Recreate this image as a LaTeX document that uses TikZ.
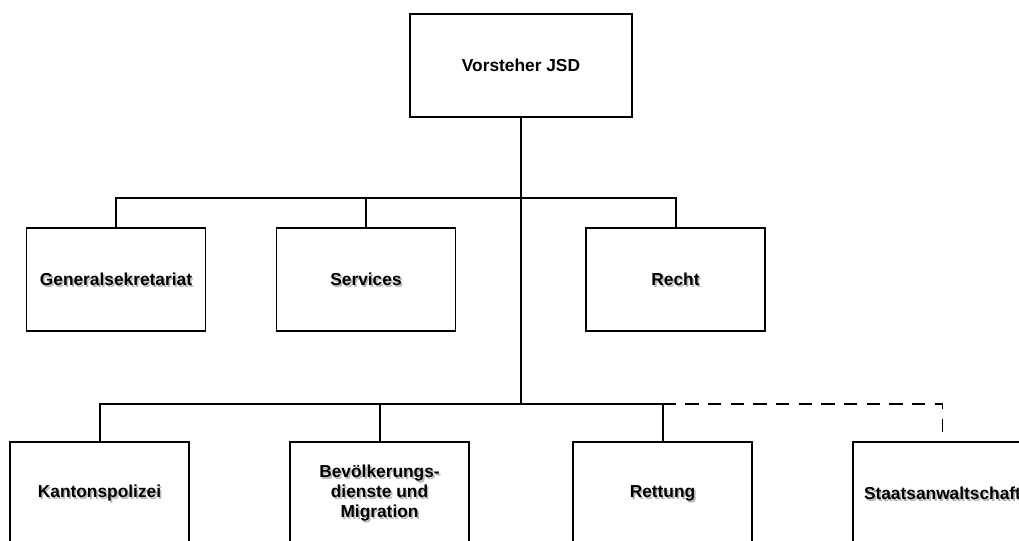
\documentclass[tikz,border=0pt]{standalone}
\usepackage{fontspec}
\setmainfont{Liberation Sans}
\newcommand\sh[1]{\leavevmode\rlap{\raisebox{-1.5pt}[0pt][0pt]{\kern1.2pt\textcolor{black!28}{#1}}}#1}
\begin{document}
\begin{tikzpicture}[x=0.75pt,y=-0.75pt,
  box/.style={draw, line width=1.1pt, minimum width=134pt, minimum height=77.25pt, inner sep=0pt,
    font=\bfseries\fontsize{13}{15}\selectfont, align=center},
  conn/.style={line width=1.5pt},
  dconn/.style={line width=1.3pt, dash pattern=on 10pt off 7pt}]
\clip (0,0) rectangle (1019,541);
\fill[white] (0,0) rectangle (1019,541);
% nodes
\node[box, minimum width=166.5pt] (top) at (521,65.5) {Vorsteher JSD};
\node[box] (gen) at (116,279.5) {\sh{Generalsekretariat}};
\node[box] (serv) at (366,279.5) {\sh{Services}};
\node[box] (recht) at (675.5,279.5) {\sh{Recht}};
\node[box] (kant) at (99.5,493.5) {\sh{Kantonspolizei}};
\node[box] (bev) at (379.5,493.5) {\sh{Bevölkerungs-}\\\sh{dienste und}\\\sh{Migration}};
\node[box] (rett) at (662.5,493.5) {\sh{Rettung}};
\node[box] (staats) at (942.5,493.5) {\sh{Staatsanwaltschaft}};
% junctions
\coordinate (j1) at (521,198);
\coordinate (j2) at (521,404);
% connectors
\draw[conn] (top.south) -- (j2);
\draw[conn] (gen.north) |- (j1) -| (recht.north);
\draw[conn] (serv.north) -- (serv.north |- j1);
\draw[conn] (kant.north) |- (j2) -| (rett.north);
\draw[conn] (bev.north) -- (bev.north |- j2);
\draw[dconn, shorten >=7pt] (rett.north |- j2) -| (staats.north);
\end{tikzpicture}
\end{document}
